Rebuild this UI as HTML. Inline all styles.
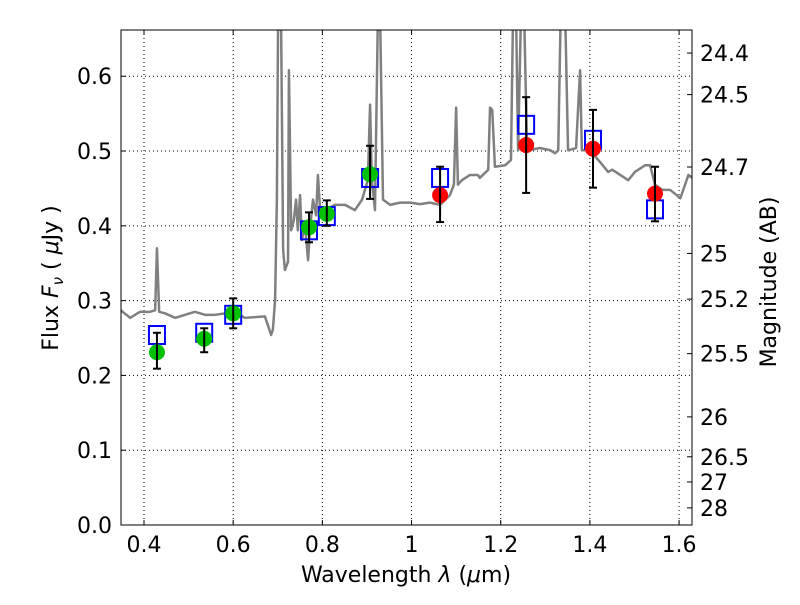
<!DOCTYPE html>
<html><head><meta charset="utf-8"><style>
body{margin:0;background:#fff}
svg text{font-family:"DejaVu Sans","Liberation Sans",sans-serif;font-size:22px;fill:#000}
</style></head><body>
<svg id="chart" width="800" height="600">
<defs><clipPath id="clip"><rect x="121" y="30" width="571" height="495"/></clipPath></defs>
<rect x="0" y="0" width="800" height="600" fill="#fff"/>
<g id="grid"></g>
<g id="spec" clip-path="url(#clip)"></g>
<g id="marks" clip-path="url(#clip)"></g>
<rect x="121" y="30" width="571" height="495" fill="none" stroke="#000" stroke-width="1"/>
<g id="axes"></g>
<text x="406" y="582" text-anchor="middle">Wavelength  <tspan font-style="italic">λ</tspan> (<tspan font-style="italic">μ</tspan>m)</text>
<text transform="translate(58,278) rotate(-90)" text-anchor="middle">Flux  <tspan font-style="italic">F</tspan><tspan font-style="italic" font-size="15" dy="5">ν</tspan><tspan dy="-5">  ( </tspan><tspan font-style="italic">μ</tspan>Jy )</text>
<text transform="translate(776,282) rotate(-90)" text-anchor="middle">Magnitude (AB)</text>
</svg>
<script>
const specLam=[.348,.369,.391,.413,.425,.429,.434,.447,.470,.492,.514,.537,.559,.582,.604,.627,.649,.671,.678,.685,.689,.694,.698,.701,.707,.712,.716,.723,.725,.730,.736,.741,.745,.750,.754,.761,.768,.772,.779,.786,.790,.795,.806,.828,.851,.873,.889,.902,.907,.911,.918,.925,.929,.936,.952,.974,.997,1.019,1.041,1.064,1.086,1.095,1.100,1.104,1.113,1.131,1.149,1.153,1.172,1.176,1.181,1.187,1.210,1.223,1.228,1.234,1.239,1.246,1.252,1.259,1.288,1.311,1.322,1.329,1.335,1.344,1.351,1.369,1.378,1.382,1.400,1.423,1.441,1.450,1.468,1.486,1.501,1.524,1.535,1.546,1.562,1.580,1.603,1.621,1.630];
const specFlux=[.287,.277,.285,.285,.287,.370,.285,.283,.277,.281,.285,.281,.281,.283,.283,.277,.278,.279,.267,.254,.261,.301,.435,.70,.70,.368,.341,.352,.608,.394,.408,.435,.394,.441,.381,.401,.354,.394,.435,.414,.468,.421,.421,.428,.428,.421,.435,.461,.562,.461,.421,.70,.70,.435,.428,.431,.431,.429,.431,.428,.441,.455,.558,.455,.461,.468,.468,.464,.475,.558,.555,.479,.481,.488,.70,.70,.501,.70,.70,.501,.504,.501,.497,.501,.70,.70,.501,.504,.608,.501,.501,.485,.472,.475,.468,.461,.472,.481,.481,.455,.448,.448,.437,.468,.464];
const greenLam=[.429,.535,.600,.770,.810,.907];
const greenFlux=[.231,.249,.283,.398,.416,.469];
const greenLo=[.209,.231,.263,.378,.400,.436];
const greenHi=[.257,.263,.303,.418,.434,.507];
const redLam=[1.064,1.257,1.407,1.546];
const redFlux=[.441,.508,.503,.443];
const redLo=[.405,.444,.451,.406];
const redHi=[.479,.572,.555,.479];
const boxLam=[.429,.535,.600,.770,.810,.907,1.064,1.257,1.407,1.546];
const boxFlux=[.254,.257,.281,.394,.413,.464,.464,.535,.515,.422];
const xTicks=[0.4,0.6,0.8,1.0,1.2,1.4,1.6];
const xTickLabels=["0.4","0.6","0.8","1","1.2","1.4","1.6"];
const yTicks=[0,0.1,0.2,0.3,0.4,0.5,0.6];
const yTickLabels=["0.0","0.1","0.2","0.3","0.4","0.5","0.6"];
const magTicks=[24.4,24.5,24.7,25,25.2,25.5,26,26.5,27,28];
const magLabels=["24.4","24.5","24.7","25","25.2","25.5","26","26.5","27","28"];

const X0=121,X1=692,Y0=525,Y1=30,LMIN=0.3484,LMAX=1.629,FMIN=0,FMAX=0.6618;
const sx=l=>X0+(l-LMIN)/(LMAX-LMIN)*(X1-X0);
const sy=f=>Y0-(f-FMIN)/(FMAX-FMIN)*(Y0-Y1);
const NS="http://www.w3.org/2000/svg";
function mk(tag,attrs,parent){const e=document.createElementNS(NS,tag);for(const k in attrs)e.setAttribute(k,attrs[k]);parent.appendChild(e);return e;}
const grid=document.getElementById('grid'),axes=document.getElementById('axes'),spec=document.getElementById('spec'),marks=document.getElementById('marks');

xTicks.forEach((t,i)=>{const x=sx(t);
 const g=mk('line',{x1:x,x2:x,y1:Y1,y2:Y0,stroke:'#000','stroke-dasharray':'1,3','stroke-width':1},grid);
 
 
 mk('line',{x1:x,x2:x,y1:Y0,y2:Y0-5,stroke:'#000'},axes);
 mk('line',{x1:x,x2:x,y1:Y1,y2:Y1+5,stroke:'#000'},axes);
 const tx=mk('text',{x:x,y:Y0+27,'text-anchor':'middle'},axes);tx.textContent=xTickLabels[i];
 
 
});
yTicks.forEach((t,i)=>{const y=sy(t);
 const g=mk('line',{x1:X0,x2:X1,y1:y,y2:y,stroke:'#000','stroke-dasharray':'1,3','stroke-width':1},grid);
 
 
 mk('line',{x1:X0,x2:X0+5,y1:y,y2:y,stroke:'#000'},axes);
 const tx=mk('text',{x:X0-9,y:y+8,'text-anchor':'end'},axes);tx.textContent=yTickLabels[i];
 
 
});
magTicks.forEach((m,i)=>{const y=sy(Math.pow(10,(23.9-m)/2.5));
 mk('line',{x1:X1,x2:X1-5,y1:y,y2:y,stroke:'#000'},axes);
 const tx=mk('text',{x:X1+8,y:y+8,'text-anchor':'start'},axes);tx.textContent=magLabels[i];
 
 
});

const pl=mk('polyline',{points:specLam.map((l,i)=>sx(l)+','+sy(specFlux[i])).join(' '),fill:'none',stroke:'#808080','stroke-width':2.5,'stroke-linejoin':'round'},spec);



boxLam.forEach((l,i)=>{
 const r=mk('rect',{x:sx(l)-8,y:sy(boxFlux[i])-9,width:16,height:18,fill:'none',stroke:'#0000ff','stroke-width':2},marks);
 
 
});
function pts(L,F,LO,HI,col,name){
 L.forEach((l,i)=>{const x=sx(l);
  const c=mk('circle',{cx:x,cy:sy(F[i]),r:8,fill:col},marks);
  
  
  const g=mk('g',{stroke:'#000','stroke-width':2},marks);
  
  
  mk('line',{x1:x,x2:x,y1:sy(LO[i]),y2:sy(HI[i])},g);
  mk('line',{x1:x-4,x2:x+4,y1:sy(LO[i]),y2:sy(LO[i])},g);
  mk('line',{x1:x-4,x2:x+4,y1:sy(HI[i]),y2:sy(HI[i])},g);
 });
}
pts(greenLam,greenFlux,greenLo,greenHi,'#00c000','green-data-point');
pts(redLam,redFlux,redLo,redHi,'#ff0000','red-data-point');
</script>
</body></html>
